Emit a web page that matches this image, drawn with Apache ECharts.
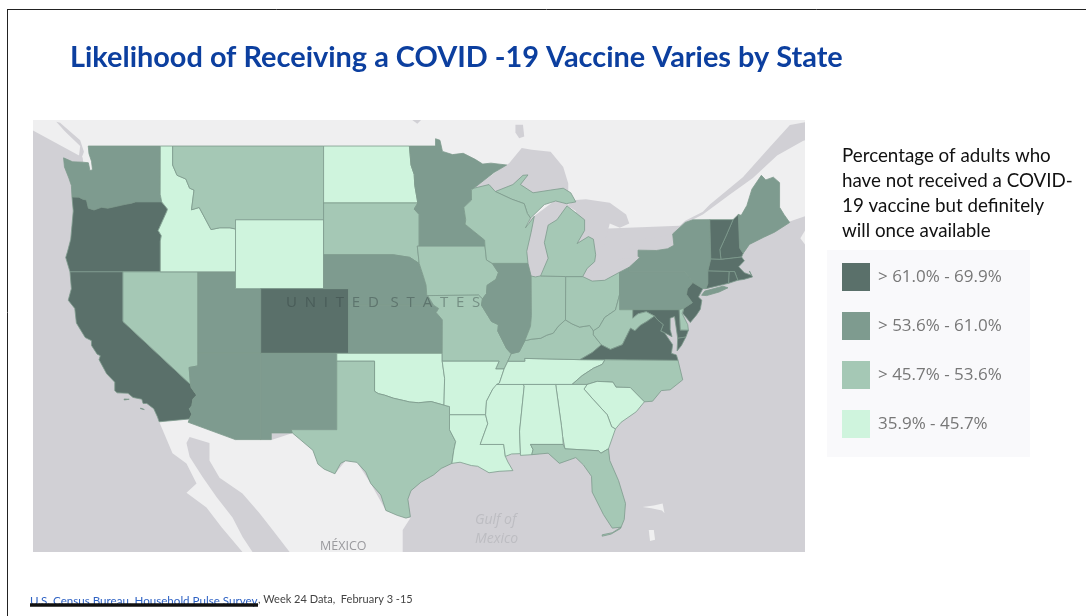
<!DOCTYPE html>
<html>
<head>
<meta charset="utf-8">
<title>COVID-19 vaccine likelihood by state</title>
<script src="https://cdn.jsdelivr.net/npm/echarts@6/dist/echarts.min.js"></script>
<style>
  html, body { margin: 0; padding: 0; background: #fff; }
  #chart { width: 1086px; height: 616px; }
</style>
</head>
<body>
<div id="chart"></div>
<script>
const stateNames = ["Oregon","California","Colorado","Vermont","New Hampshire","Massachusetts","Connecticut","Rhode Island","New Jersey","Maryland","Virginia",
  "Washington","Utah","Arizona","New Mexico","Nebraska","Kansas","Minnesota","Illinois","New York","Pennsylvania","Maine",
  "Montana","South Dakota","Nevada","Texas","Iowa","Missouri","Wisconsin","Michigan","Indiana","Ohio","Kentucky","West Virginia","North Carolina","Florida","Delaware",
  "Idaho","Wyoming","North Dakota","Oklahoma","Arkansas","Louisiana","Mississippi","Alabama","Tennessee","Georgia","South Carolina"];
const stateValues = [63, 64, 62, 69.9, 66, 67, 65, 63, 64, 65, 62,
  59, 56, 55, 57, 55, 54, 58, 56, 60, 57, 59,
  50, 48, 51, 49, 52, 47, 53, 52, 48, 50, 46, 47, 51, 50, 53,
  44, 35.9, 43, 40, 41, 42, 39, 38, 43, 44, 45];
const legendLabels = ["> 61.0% - 69.9%", "> 53.6% - 61.0%", "> 45.7% - 53.6%", "35.9% - 45.7%"];
const legendBreaks = [69.9, 61.0, 53.6, 45.7, 35.9];
const legendColors = ["#5a706a", "#7e9b8f", "#a5c8b5", "#cff4dd"];
const captionLines = ["Percentage of adults who", "have not received a COVID-", "19 vaccine but definitely", "will once available"];

// Outlines in lon/lat, the web mercator projection below places them
const stateShapes = {
  "Washington": [[[-117.03,49],[-122.76,49],[-122.7,48.6],[-122.5,48.2],[-122.42,47.75],[-122.62,47.7],[-122.75,48.12],[-123.2,48.15],[-124,48.17],[-124.72,48.38],[-124.65,47.9],[-124.3,47.3],[-124.1,46.9],[-124.05,46.27],[-123.5,46.26],[-123.2,46.15],[-122.9,46.1],[-122.75,45.65],[-122.3,45.55],[-121.7,45.7],[-121.2,45.65],[-120.6,45.74],[-119.9,45.85],[-119.3,45.93],[-119,46],[-116.92,46],[-117.04,46.42]]],
  "Oregon": [[[-116.92,46],[-119,46],[-119.3,45.93],[-119.9,45.85],[-120.6,45.74],[-121.2,45.65],[-121.7,45.7],[-122.3,45.55],[-122.75,45.65],[-122.9,46.1],[-123.2,46.15],[-123.5,46.26],[-124.05,46.27],[-123.95,45.5],[-124.05,44.7],[-124.15,43.9],[-124.4,43.2],[-124.55,42.84],[-124.21,42],[-120,42],[-117.03,42],[-117.03,43.8],[-116.95,44.1],[-117.2,44.4],[-116.85,44.95],[-116.5,45.5],[-116.46,45.6]]],
  "California": [[[-124.21,42],[-120,42],[-120,39],[-114.63,35],[-114.57,34.8],[-114.14,34.3],[-114.43,34.05],[-114.52,33.6],[-114.72,33.4],[-114.52,33.03],[-114.72,32.72],[-117.12,32.53],[-117.25,32.85],[-117.55,33.4],[-118.1,33.75],[-118.4,33.75],[-118.5,34.03],[-119.2,34.15],[-119.6,34.42],[-120.47,34.45],[-120.65,34.6],[-120.65,35.15],[-121.3,35.7],[-121.9,36.6],[-121.8,36.85],[-122.05,36.95],[-122.5,37.5],[-122.5,37.8],[-123,38],[-123.7,38.9],[-123.83,39.8],[-124.35,40.3],[-124.1,41]],
    [[-119.9,34.05],[-119.5,34.03],[-119.55,33.97],[-119.9,33.98]], [[-118.6,33.45],[-118.3,33.35],[-118.35,33.3],[-118.6,33.4]]],
  "Nevada": [[[-120,42],[-114.04,42],[-114.04,36.2],[-114.74,36.1],[-114.63,35],[-120,39]]],
  "Utah": [[[-114.04,42],[-111.05,42],[-111.05,41],[-109.05,41],[-109.05,37],[-114.04,37]]],
  "Arizona": [[[-114.04,37],[-109.05,37],[-109.05,31.33],[-111.07,31.33],[-114.81,32.5],[-114.72,32.72],[-114.52,33.03],[-114.72,33.4],[-114.52,33.6],[-114.43,34.05],[-114.14,34.3],[-114.57,34.8],[-114.63,35],[-114.74,36.1],[-114.04,36.2]]],
  "Idaho": [[[-117.03,49],[-116.05,49],[-116.05,48],[-115.7,47.45],[-115,47.25],[-114.7,46.75],[-114.35,46.65],[-114.55,45.56],[-113.94,45.69],[-113.45,45.05],[-113,44.45],[-112.3,44.55],[-111.5,44.55],[-111.05,44.48],[-111.05,42],[-117.03,42],[-117.03,43.8],[-116.95,44.1],[-117.2,44.4],[-116.85,44.95],[-116.5,45.5],[-116.46,45.6],[-116.92,46],[-117.04,46.42]]],
  "Montana": [[[-116.05,49],[-104.05,49],[-104.05,45],[-111.05,45],[-111.05,44.48],[-111.5,44.55],[-112.3,44.55],[-113,44.45],[-113.45,45.05],[-113.94,45.69],[-114.55,45.56],[-114.35,46.65],[-114.7,46.75],[-115,47.25],[-115.7,47.45],[-116.05,48]]],
  "Wyoming": [[[-111.05,45],[-104.05,45],[-104.05,41],[-111.05,41]]],
  "Colorado": [[[-109.05,41],[-102.05,41],[-102.05,37],[-109.05,37]]],
  "New Mexico": [[[-109.05,37],[-103,37],[-103,32],[-106.62,32],[-106.53,31.78],[-108.21,31.78],[-108.21,31.33],[-109.05,31.33]]],
  "North Dakota": [[[-104.05,49],[-97.23,49],[-97.1,48],[-96.85,47.5],[-96.8,46.9],[-96.56,45.94],[-104.05,45.94]]],
  "South Dakota": [[[-104.05,45.94],[-96.56,45.94],[-96.85,45.6],[-96.45,45.3],[-96.45,43.5],[-96.6,43.5],[-96.45,42.49],[-97.2,42.85],[-98.5,43],[-104.05,43]]],
  "Nebraska": [[[-104.05,43],[-98.5,43],[-97.2,42.85],[-96.45,42.49],[-96.1,41.7],[-95.9,41.2],[-95.85,40.65],[-95.31,40],[-102.05,40],[-102.05,41],[-104.05,41]]],
  "Kansas": [[[-102.05,40],[-95.31,40],[-94.9,39.8],[-95.1,39.55],[-94.61,39.1],[-94.62,37],[-102.05,37]]],
  "Oklahoma": [[[-103,37],[-94.62,37],[-94.62,36.5],[-94.43,35.4],[-94.48,33.64],[-95.5,33.88],[-96.5,33.8],[-97.2,33.85],[-97.7,33.95],[-98.5,34.1],[-99.2,34.3],[-99.7,34.4],[-100,34.56],[-100,36.5],[-103,36.5]]],
  "Texas": [[[-103,36.5],[-100,36.5],[-100,34.56],[-99.7,34.4],[-99.2,34.3],[-98.5,34.1],[-97.7,33.95],[-97.2,33.85],[-96.5,33.8],[-95.5,33.88],[-94.48,33.64],[-94.04,33.55],[-94.04,33],[-94.04,32],[-93.55,31.2],[-93.7,30.6],[-93.85,29.7],[-94.7,29.35],[-95.3,28.9],[-96.3,28.4],[-97.1,27.8],[-97.35,27.2],[-97.15,25.95],[-97.5,25.85],[-98.2,26.05],[-99.1,26.4],[-99.5,27.5],[-100.3,28.3],[-100.7,29.1],[-101.4,29.77],[-102.3,29.88],[-102.7,29.7],[-103.15,28.98],[-104,29.3],[-104.5,29.65],[-104.9,30.6],[-106,31.4],[-106.53,31.78],[-106.62,32],[-103,32]]],
  "Minnesota": [[[-97.23,49],[-95.15,49],[-95.15,49.38],[-94.8,49.3],[-94.6,48.72],[-93.8,48.55],[-92.95,48.62],[-92,48.3],[-91.4,48.05],[-90.75,48.1],[-89.5,48],[-90.5,47.6],[-92.1,46.75],[-92.3,46.66],[-92.29,46.1],[-92.9,45.7],[-92.75,45],[-92.8,44.75],[-91.25,43.85],[-91.22,43.5],[-96.45,43.5],[-96.45,45.3],[-96.85,45.6],[-96.56,45.94],[-96.8,46.9],[-96.85,47.5],[-97.1,48]]],
  "Iowa": [[[-96.45,43.5],[-91.22,43.5],[-91.1,42.7],[-90.64,42.5],[-90.15,41.95],[-90.35,41.55],[-91.05,41.2],[-91.1,40.7],[-91.42,40.38],[-91.73,40.61],[-95.77,40.58],[-95.85,40.65],[-95.9,41.2],[-96.1,41.7],[-96.45,42.49],[-96.6,43.5]]],
  "Missouri": [[[-95.77,40.58],[-91.73,40.61],[-91.42,40.38],[-91.5,40],[-90.7,39],[-90.15,38.8],[-90.2,38.4],[-89.5,37.3],[-89.13,36.98],[-89.4,36.5],[-89.7,36],[-90.37,36],[-90.1,36.5],[-94.62,36.5],[-94.62,37],[-94.61,39.1],[-95.1,39.55],[-94.9,39.8],[-95.31,40]]],
  "Arkansas": [[[-94.62,36.5],[-90.1,36.5],[-90.37,36],[-89.7,36],[-90.07,35.1],[-90.6,34.7],[-91.1,33.9],[-91.17,33],[-94.04,33],[-94.04,33.55],[-94.48,33.64],[-94.43,35.4]]],
  "Louisiana": [[[-94.04,33],[-91.17,33],[-91,32.4],[-91.6,31],[-89.73,31],[-89.6,30.18],[-89.4,29.8],[-89,29.2],[-90.1,29.15],[-90.9,29.05],[-91.8,29.5],[-92.3,29.55],[-93.2,29.78],[-93.85,29.7],[-93.7,30.6],[-93.55,31.2],[-94.04,32]]],
  "Mississippi": [[[-90.3,35],[-88.2,35],[-88.1,34.9],[-88.47,31.9],[-88.4,30.37],[-89.1,30.35],[-89.6,30.18],[-89.73,31],[-91.6,31],[-91,32.4],[-91.17,33],[-91.1,33.9],[-90.6,34.7]]],
  "Tennessee": [[[-90.07,35.1],[-89.7,36],[-89.4,36.5],[-88.05,36.5],[-88.07,36.68],[-83.67,36.6],[-81.68,36.59],[-81.9,36.3],[-82.6,36.05],[-83.5,35.57],[-84.3,35],[-85.6,35],[-88.2,35],[-90.3,35]]],
  "Kentucky": [[[-89.4,36.5],[-89.13,36.98],[-88.5,37.1],[-88.05,37.8],[-87.5,37.9],[-86.8,37.95],[-86.3,38.15],[-85.8,38.27],[-85.4,38.7],[-84.85,39.1],[-84.3,38.85],[-83.7,38.65],[-82.9,38.75],[-82.6,38.42],[-82.6,38.17],[-81.97,37.54],[-82.7,37.05],[-83.67,36.6],[-88.07,36.68],[-88.05,36.5]]],
  "Illinois": [[[-90.64,42.5],[-87.8,42.5],[-87.55,41.75],[-87.53,39.35],[-87.6,38.7],[-88.05,37.8],[-88.5,37.1],[-89.13,36.98],[-89.5,37.3],[-90.2,38.4],[-90.15,38.8],[-90.7,39],[-91.5,40],[-91.42,40.38],[-91.1,40.7],[-91.05,41.2],[-90.35,41.55],[-90.15,41.95]]],
  "Indiana": [[[-87.55,41.75],[-87.2,41.7],[-86.8,41.76],[-84.8,41.72],[-84.82,39.1],[-85.4,38.7],[-85.8,38.27],[-86.3,38.15],[-86.8,37.95],[-87.5,37.9],[-88.05,37.8],[-87.6,38.7],[-87.53,39.35]]],
  "Ohio": [[[-84.8,41.72],[-83.45,41.72],[-82.7,41.45],[-81.7,41.5],[-80.52,41.98],[-80.52,40.64],[-80.85,39.7],[-81.7,39.25],[-82.15,38.65],[-82.6,38.42],[-82.9,38.75],[-83.7,38.65],[-84.3,38.85],[-84.82,39.1]]],
  "Michigan": [[[-86.8,41.76],[-84.8,41.72],[-83.45,41.72],[-83.1,42.2],[-82.5,42.6],[-82.42,43],[-82.6,43.9],[-83,44.05],[-83.9,43.65],[-83.3,44.4],[-83.3,45],[-84.7,45.78],[-85.5,45],[-86.2,44.7],[-86.5,43.7],[-86.2,42.8]],
    [[-90.4,46.57],[-89,46.95],[-88.2,47.45],[-87.8,47.47],[-88.4,46.95],[-87.4,46.5],[-86,46.65],[-85,46.75],[-84.4,46.5],[-84,46],[-84.75,45.9],[-85.6,46.05],[-86.5,45.85],[-87.6,45.1],[-87.85,45.35],[-88.1,45.9],[-89.1,46.15]]],
  "Wisconsin": [[[-92.1,46.75],[-90.9,46.95],[-90.4,46.57],[-89.1,46.15],[-88.1,45.9],[-87.85,45.35],[-87.6,45.1],[-88,44.55],[-87.3,45.2],[-87.55,44.3],[-87.9,43.2],[-87.8,42.5],[-90.64,42.5],[-91.1,42.7],[-91.22,43.5],[-91.25,43.85],[-92.8,44.75],[-92.75,45],[-92.9,45.7],[-92.29,46.1],[-92.3,46.66]]],
  "New York": [[[-79.76,42.27],[-79.76,42],[-75.35,42],[-75.05,41.75],[-74.7,41.36],[-73.9,41],[-73.65,41],[-73.5,41.3],[-73.5,42.05],[-73.27,42.75],[-73.35,45.01],[-74.7,45],[-75.3,44.85],[-76.3,44.2],[-76.2,43.55],[-76.7,43.35],[-77.6,43.25],[-79.05,43.27],[-79.05,42.9],[-78.9,42.85]],
    [[-74,40.6],[-73.75,40.85],[-72.3,41.15],[-71.9,41.05],[-72.6,40.8],[-73.6,40.58]]],
  "Pennsylvania": [[[-80.52,41.98],[-79.76,42.27],[-79.76,42],[-75.35,42],[-75.05,41.75],[-74.7,41.36],[-75.13,40.98],[-75.2,40.65],[-74.73,40.15],[-75.42,39.8],[-75.79,39.72],[-79.48,39.72],[-80.52,39.72]]],
  "New Jersey": [[[-74.7,41.36],[-73.9,41],[-74.25,40.5],[-73.98,40.3],[-74.1,39.75],[-74.4,39.4],[-74.9,38.93],[-75.5,39.5],[-75.42,39.8],[-74.73,40.15],[-75.2,40.65],[-75.13,40.98]]],
  "Delaware": [[[-75.79,39.72],[-75.42,39.8],[-75.55,39.5],[-75.1,38.8],[-75.05,38.45],[-75.7,38.46]]],
  "Maryland": [[[-79.48,39.72],[-75.79,39.72],[-75.7,38.46],[-75.05,38.45],[-75.25,38.03],[-75.9,37.95],[-76,38.5],[-76.15,39.3],[-76.5,39.2],[-76.5,38.5],[-76.35,38.05],[-76.95,38.3],[-77.25,38.4],[-77.05,38.8],[-77.5,39.1],[-77.75,39.33],[-78.4,39.6],[-79.05,39.47],[-79.48,39.2]]],
  "West Virginia": [[[-80.52,40.64],[-80.52,39.72],[-79.48,39.72],[-79.48,39.2],[-79.05,39.47],[-78.4,39.6],[-77.75,39.33],[-78.35,39],[-78.87,38.76],[-79.3,38.42],[-79.65,38.58],[-80.3,37.55],[-81.25,37.25],[-81.97,37.54],[-82.6,38.17],[-82.6,38.42],[-82.15,38.65],[-81.7,39.25],[-80.85,39.7]]],
  "Virginia": [[[-83.67,36.6],[-81.68,36.59],[-75.87,36.55],[-76,36.9],[-76.4,37],[-76.3,37.55],[-76.95,38.3],[-77.25,38.4],[-77.05,38.8],[-77.5,39.1],[-77.75,39.33],[-78.35,39],[-78.87,38.76],[-79.3,38.42],[-79.65,38.58],[-80.3,37.55],[-81.25,37.25],[-81.97,37.54],[-82.7,37.05]],
    [[-75.25,38.03],[-75.6,37.5],[-75.95,37.15],[-75.9,37.95]]],
  "North Carolina": [[[-84.3,35],[-83.5,35.57],[-82.6,36.05],[-81.9,36.3],[-81.68,36.59],[-75.87,36.55],[-75.5,35.3],[-76.5,34.65],[-77.2,34.6],[-77.9,33.9],[-78.55,33.86],[-79.67,34.8],[-80.8,34.82],[-81.05,35.15],[-82.3,35.2],[-83.1,35]]],
  "South Carolina": [[[-83.1,35],[-82.3,35.2],[-81.05,35.15],[-80.8,34.82],[-79.67,34.8],[-78.55,33.86],[-79.2,33.2],[-80.4,32.5],[-80.85,32.05],[-81.15,32.2],[-81.5,33],[-82.6,34],[-83.35,34.7]]],
  "Georgia": [[[-85.6,35],[-84.3,35],[-83.1,35],[-83.35,34.7],[-82.6,34],[-81.5,33],[-81.15,32.2],[-80.85,32.05],[-81.4,30.71],[-82,30.4],[-82.2,30.57],[-84.86,30.7],[-85.05,31.55],[-85.15,32.3]]],
  "Alabama": [[[-88.2,35],[-85.6,35],[-85.15,32.3],[-85.05,31.55],[-85,31],[-87.6,31],[-87.4,30.65],[-87.5,30.3],[-88.4,30.25],[-88.4,30.37],[-88.47,31.9],[-88.1,34.9]]],
  "Florida": [[[-87.6,31],[-85,31],[-84.86,30.7],[-82.2,30.57],[-82,30.4],[-81.4,30.71],[-81.3,29.9],[-80.6,28.5],[-80.05,26.9],[-80.15,25.75],[-80.4,25.2],[-81.1,25.13],[-81.8,26.1],[-82.7,27.7],[-82.75,28.8],[-83.4,29.6],[-84,30.1],[-85.3,29.7],[-86.2,30.4],[-87.5,30.3],[-87.4,30.65]],
    [[-81.9,24.55],[-81.2,24.7],[-80.45,25.1],[-80.4,25.2],[-81.1,24.8],[-81.9,24.65]]],
  "Maine": [[[-71.08,45.3],[-70.85,45.25],[-70.4,45.8],[-70,46.7],[-69.25,47.45],[-68.9,47.2],[-68.3,47.35],[-67.8,47.05],[-67.8,45.7],[-67.45,45.3],[-67,44.85],[-68.2,44.3],[-69.1,44],[-70.2,43.6],[-70.7,43.08],[-70.98,43.4]]],
  "New Hampshire": [[[-71.5,45.01],[-71.08,45.3],[-70.98,43.4],[-70.7,43.08],[-70.82,42.87],[-72.46,42.73],[-72.55,43.3],[-72.05,44.1]]],
  "Vermont": [[[-73.35,45.01],[-71.5,45.01],[-72.05,44.1],[-72.55,43.3],[-72.46,42.73],[-73.27,42.75]]],
  "Massachusetts": [[[-73.5,42.05],[-73.27,42.75],[-72.46,42.73],[-70.82,42.87],[-70.6,42.65],[-71.05,42.3],[-70.6,41.95],[-70.05,41.8],[-70.2,42.05],[-69.95,41.7],[-70.65,41.55],[-71.12,41.5],[-71.38,42.02],[-71.8,42.02]]],
  "Connecticut": [[[-73.5,42.05],[-71.8,42.02],[-71.85,41.32],[-73.65,41],[-73.5,41.3]]],
  "Rhode Island": [[[-71.8,42.02],[-71.38,42.02],[-71.12,41.5],[-71.85,41.32]]]
};

// Basemap behind the states: sea, neighbours, lakes
const mapCorners = [[-127.15, 50.34], [-65.78, 23.4]];
const baseShapes = {
  "Sea": [[[-127.15,50.34],[-65.78,50.34],[-65.78,23.4],[-127.15,23.4]]],
  "Canada": [[[-127.15,50.34],[-65.78,50.34],[-65.78,45.2],[-67,44.9],[-100,44],[-123,47],[-123.2,48.4],[-127.15,49.8]]],
  "Nova Scotia": [[[-65.78,44.4],[-66.15,43.95],[-65.78,43.6]]],
  "Mexico": [[[-117.12,32.53],[-114.72,32.72],[-111,31.3],[-108.2,31.3],[-106.5,31.78],[-104.9,30.6],[-104.5,29.65],[-103.15,28.98],[-102.3,29.88],[-101.4,29.77],[-100.3,28.3],[-99.1,26.4],[-97.5,25.85],[-97.15,25.85],[-97.76,25],[-97.76,23.4],[-110.5,23.4],[-112.16,25.2],[-113.36,26.6],[-114.95,27.65],[-114.15,28.3],[-114.95,29.7],[-116.06,30.4],[-117.12,32.53]]],
  "Bahamas A": [[[-78.2,25],[-77.8,25],[-77.7,24.3],[-78.1,24.2]]],
  "Bahamas B": [[[-78.7,26.65],[-77.8,26.75],[-77.1,26.9],[-76.95,26.2],[-77.15,26.4],[-78,26.55]]],
  "Gulf of California": [[[-114.7,31.5],[-113.12,31.1],[-113.12,29.9],[-112.32,28.7],[-110.5,27.6],[-109.14,26.2],[-108.1,25],[-106.75,23.4],[-109.7,23.4],[-110.5,24.5],[-111.29,25.9],[-112.56,27.35],[-113.67,28.75],[-114.7,30.15],[-114.95,31.1]]],
  "Georgia Strait": [[[-125.3,50.25],[-125,50.2],[-123.4,49.3],[-123.1,48.7],[-123.3,48.35],[-123.5,48.45],[-123.4,49],[-124.6,49.75]]],
  "Superior": [[[-92.1,46.75],[-91,47.3],[-90,47.8],[-89.3,48.1],[-88.3,48.9],[-87.5,48.8],[-86,48.7],[-85,47.9],[-84.6,47],[-84.6,46.5],[-85,46.4],[-90,46.4]]],
  "Nipigon": [[[-88.8,50.1],[-88.2,50.1],[-88.1,49.5],[-88.5,49.4],[-88.8,49.7]]],
  "Winnipeg": [[[-97,50.34],[-96.3,50.34],[-96.6,50.15]]],
  "Lake Michigan": [[[-87.8,42.5],[-87.55,41.65],[-86.8,41.65],[-86,43],[-85.2,45],[-84.6,45.9],[-85.6,46.1],[-87.7,45]]],
  "Huron": [[[-84.7,45.8],[-84,46.1],[-83.2,46.15],[-81.3,45.95],[-80,45.3],[-79.75,44.8],[-80.5,44.55],[-81.3,44.8],[-81.75,43.6],[-82.4,43],[-83.5,43],[-84,44],[-84,45.5]]],
  "Erie": [[[-83.45,41.72],[-83.1,42.1],[-82.4,42.05],[-81.5,42.6],[-80.3,42.75],[-79,42.85],[-78.9,42.85],[-79.76,42.2],[-80.52,41.9],[-81.7,41.4],[-82.7,41.35]]],
  "Ontario": [[[-79.8,43.3],[-79.2,43.85],[-78,43.95],[-76.9,44.1],[-76.3,44.3],[-76.1,43.55],[-76.7,43.3],[-77.6,43.2],[-79.05,43.2]]],
  "St Lawrence": [[[-65.78,50.23],[-66.98,50.08],[-68.57,48.95],[-70.72,47.35],[-73.34,45.86],[-73.9,45.45],[-75.3,44.95],[-76.3,44.3],[-75.3,44.8],[-73.9,45.3],[-71.75,46.4],[-69.92,47.3],[-68,48.5],[-65.95,49.26],[-65.78,49.3]]]
};
const baseColors = { "Canada": "#efeff0", "Nova Scotia": "#efeff0", "Mexico": "#efeff0", "Bahamas A": "#efeff0", "Bahamas B": "#efeff0" };

const toGeoJson = (shapes) => ({
  type: "FeatureCollection",
  features: Object.keys(shapes).map((name) => ({
    type: "Feature",
    properties: { name },
    geometry: { type: "MultiPolygon", coordinates: shapes[name].map((ring) => [[...ring, ring[0]]]) },
  })),
});

echarts.registerMap("basemap", toGeoJson(baseShapes));
echarts.registerMap("states", toGeoJson(stateShapes));

const webMercator = {
  project: ([lon, lat]) => [(lon * Math.PI) / 180, -Math.log(Math.tan(Math.PI / 4 + (lat * Math.PI) / 360))],
  unproject: ([x, y]) => [(x * 180) / Math.PI, ((2 * Math.atan(Math.exp(-y)) - Math.PI / 2) * 180) / Math.PI],
};

const mapBox = { left: 33, top: 120, width: 772, height: 432 };

const chart = echarts.init(document.getElementById("chart"));

chart.setOption({
  animation: false,
  backgroundColor: "#fff",
  title: [
    {
      text: "Likelihood of Receiving a COVID -19 Vaccine Varies by State",
      left: 70,
      top: 43,
      padding: 0,
      textStyle: { fontFamily: "Lato", fontWeight: "bold", fontSize: 28.9, color: "#0c3f9f" },
    },
    {
      text: captionLines.join("\n"),
      left: 842,
      top: 144,
      padding: 0,
      textStyle: { fontFamily: "Lato", fontWeight: "normal", fontSize: 18.8, lineHeight: 24.7, color: "#111" },
    },
  ],
  geo: {
    map: "basemap",
    ...mapBox,
    projection: webMercator,
    boundingCoords: mapCorners,
    roam: false,
    silent: true,
    label: { show: false },
    itemStyle: { areaColor: "#d1d0d5", borderWidth: 0 },
    regions: Object.keys(baseColors).map((name) => ({ name, itemStyle: { areaColor: baseColors[name], borderWidth: 0 } })),
  },
  visualMap: {
    type: "piecewise",
    seriesIndex: 0,
    left: 842,
    top: 263,
    padding: 0,
    orient: "vertical",
    align: "left",
    itemSymbol: "rect",
    itemWidth: 28,
    itemHeight: 28,
    itemGap: 21,
    textGap: 8,
    selectedMode: false,
    hoverLink: false,
    textStyle: { fontFamily: "Open Sans", fontSize: 17, color: "#777" },
    pieces: legendLabels.map((label, i) => ({
      min: legendBreaks[i + 1],
      max: legendBreaks[i],
      label,
      color: legendColors[i],
    })),
  },
  series: [
    {
      type: "map",
      map: "states",
      ...mapBox,
      projection: webMercator,
      boundingCoords: mapCorners,
      roam: false,
      silent: true,
      selectedMode: false,
      label: { show: false },
      itemStyle: { borderColor: "#7d9a8d", borderWidth: 0.8 },
      data: stateNames.map((name, i) => ({ name, value: stateValues[i] })),
    },
  ],
  graphic: [
    // slide frame
    { type: "line", z: 5, shape: { x1: 7, y1: 9.5, x2: 1086, y2: 9.5 }, style: { stroke: "#222", lineWidth: 1 } },
    { type: "line", z: 5, shape: { x1: 7.5, y1: 9, x2: 7.5, y2: 616 }, style: { stroke: "#222", lineWidth: 1 } },
    // legend panel
    { type: "rect", z: -1, shape: { x: 827, y: 250, width: 203, height: 207 }, style: { fill: "#f9f9fb" } },
    // basemap labels
    { type: "text", z: 10, x: 286, y: 295, style: { text: "U  N  I  T  E  D   S  T  A  T  E  S", font: "15px 'Open Sans'", fill: "rgba(50,65,65,0.42)" } },
    { type: "text", z: 10, x: 320, y: 540, style: { text: "MÉXICO", font: "12.5px 'Open Sans'", fill: "#9a9a9e" } },
    { type: "text", z: 10, x: 475, y: 513, style: { text: "Gulf of", font: "italic 14px 'Open Sans'", fill: "#bdbdc2" } },
    { type: "text", z: 10, x: 475, y: 532, style: { text: "Mexico", font: "italic 14px 'Open Sans'", fill: "#bdbdc2" } },
    // source line
    { type: "text", z: 10, x: 30, y: 595, style: { text: "U.S. Census Bureau, Household Pulse Survey", font: "11.6px Lato", fill: "#2e62c4" } },
    { type: "line", z: 11, shape: { x1: 30, y1: 605, x2: 258, y2: 605 }, style: { stroke: "#111", lineWidth: 3.5 } },
    { type: "text", z: 10, x: 258, y: 594, style: { text: ", Week 24 Data,  February 3 -15", font: "11px Lato", fill: "#444" } },
  ],
});
</script>
</body>
</html>
